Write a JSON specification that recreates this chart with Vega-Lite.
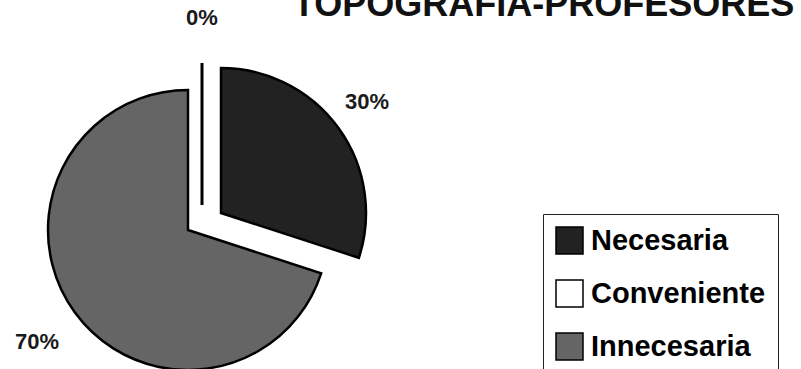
{
  "$schema": "https://vega.github.io/schema/vega-lite/v6.json",
  "width": 404,
  "height": 444,
  "autosize": {"type": "none"},
  "padding": {"left": 0, "top": 0, "right": 397, "bottom": 0},
  "background": "white",
  "title": {
    "text": "TOPOGRAFIA-PROFESORES",
    "anchor": "start",
    "frame": "group",
    "dx": 293,
    "dy": 24,
    "offset": 0,
    "font": "Liberation Sans",
    "fontSize": 36,
    "fontWeight": "bold",
    "color": "#111111"
  },
  "data": {
    "values": [
      {"categoria": "Necesaria", "pct": 0.3},
      {"categoria": "Conveniente", "pct": 0},
      {"categoria": "Innecesaria", "pct": 0.7}
    ]
  },
  "transform": [
    {"stack": "pct", "groupby": [], "sort": [{"field": "pct", "order": "ascending"}], "as": ["t0", "t1"]}
  ],
  "layer": [
    {
      "transform": [{"filter": "datum.categoria === 'Innecesaria'"}],
      "mark": {"type": "arc", "outerRadius": 140, "stroke": "#000000", "strokeWidth": 2.5, "xOffset": -14, "yOffset": 8},
      "encoding": {
        "theta": {"field": "t0", "type": "quantitative", "scale": {"domain": [0, 1]}},
        "theta2": {"field": "t1"},
        "color": {
          "field": "categoria",
          "type": "nominal",
          "scale": {"domain": ["Necesaria", "Conveniente", "Innecesaria"], "range": ["#222222", "#ffffff", "#656565"]},
          "legend": {
            "orient": "none",
            "legendX": 543,
            "legendY": 214,
            "title": null,
            "symbolType": "square",
            "symbolSize": 729,
            "symbolStrokeColor": "#000000",
            "symbolStrokeWidth": 1.5,
            "labelFont": "Liberation Sans",
            "labelFontSize": 29,
            "labelFontWeight": "bold",
            "labelColor": "#000000",
            "labelOffset": 7,
            "labelLimit": 400,
            "rowPadding": 20,
            "padding": 12,
            "strokeColor": "#222222",
            "fillColor": "#ffffff"
          }
        }
      }
    },
    {
      "transform": [{"filter": "datum.categoria === 'Necesaria'"}],
      "mark": {"type": "arc", "outerRadius": 145, "stroke": "#000000", "strokeWidth": 2.5, "xOffset": 19, "yOffset": -9},
      "encoding": {
        "theta": {"field": "t0", "type": "quantitative", "scale": {"domain": [0, 1]}},
        "theta2": {"field": "t1"},
        "color": {"field": "categoria", "type": "nominal"}
      }
    },
    {
      "transform": [{"filter": "datum.categoria === 'Conveniente'"}],
      "mark": {"type": "arc", "outerRadius": 142, "stroke": "#000000", "strokeWidth": 3, "xOffset": 0, "yOffset": -17},
      "encoding": {
        "theta": {"field": "t0", "type": "quantitative", "scale": {"domain": [0, 1]}},
        "theta2": {"field": "t1"},
        "color": {"field": "categoria", "type": "nominal"}
      }
    },
    {
      "mark": {"type": "text", "radius": 204, "font": "Liberation Sans", "fontSize": 22, "fontWeight": "bold", "color": "#1a1a1a", "align": "center", "baseline": "middle"},
      "encoding": {
        "theta": {"field": "pct", "type": "quantitative", "stack": true, "scale": {"domain": [0, 1]}},
        "order": {"field": "pct", "sort": "ascending"},
        "text": {"field": "pct", "type": "quantitative", "format": ".0%"}
      }
    }
  ],
  "config": {"view": {"stroke": null}}
}
